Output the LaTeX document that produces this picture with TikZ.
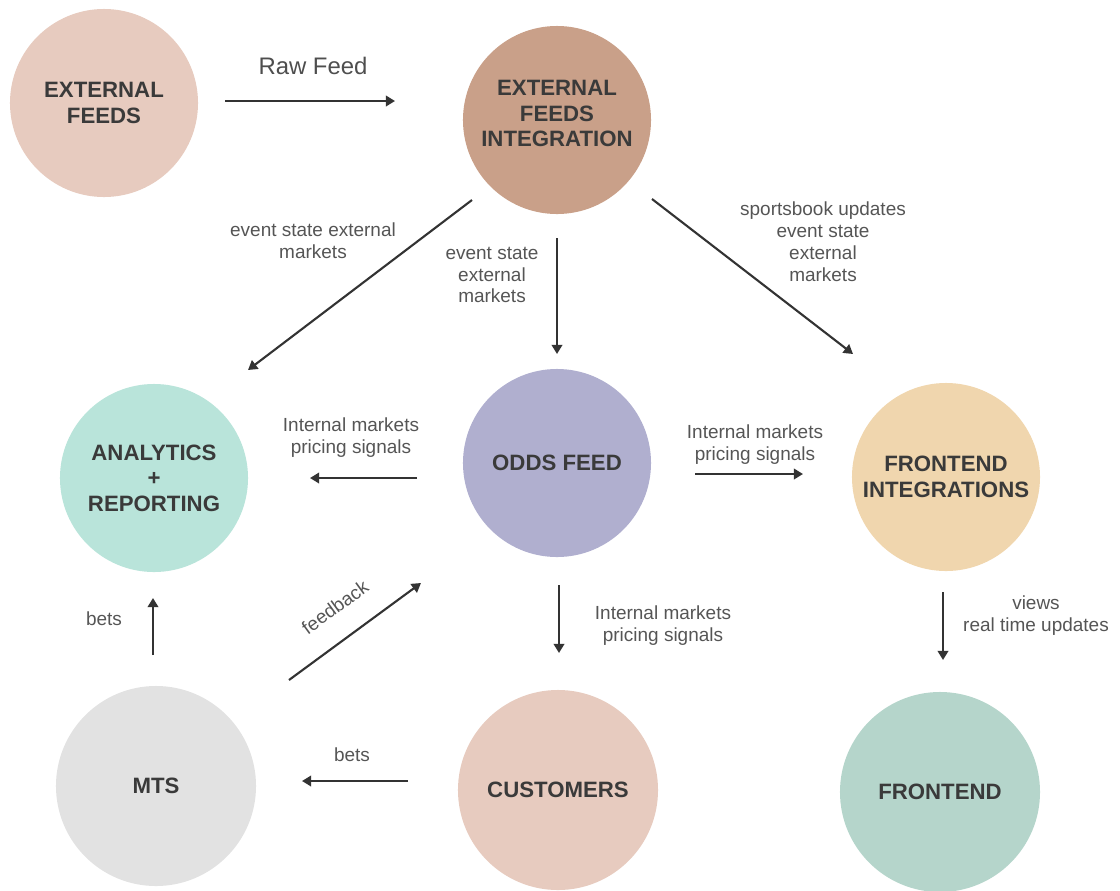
\documentclass[tikz,border=0pt]{standalone}
\usepackage{fontspec}
\setmainfont{Liberation Sans}
\usetikzlibrary{arrows.meta}
\definecolor{Ink}{HTML}{3A3A3A}
\definecolor{Label}{HTML}{555555}
\definecolor{Line}{HTML}{333333}
\definecolor{Blush}{HTML}{E7CBBF}
\definecolor{Clay}{HTML}{C9A089}
\definecolor{Mint}{HTML}{B9E4DA}
\definecolor{Lilac}{HTML}{B0AFCF}
\definecolor{Peach}{HTML}{F0D6AE}
\definecolor{Ash}{HTML}{E2E2E2}
\definecolor{Sage}{HTML}{B5D5CB}

\begin{document}
\begin{tikzpicture}[
    x=0.025cm,y=-0.025cm,
    hub/.style={circle,inner sep=0pt,minimum size=4.7cm,align=center,
      font=\fontsize{15.8}{18.2}\selectfont\bfseries,text=Ink},
    note/.style={align=center,font=\fontsize{13.5}{15.6}\selectfont,text=Label},
    arr/.style={-{Triangle[length=6.5pt,width=7.5pt]},Line,line width=1.5pt}
  ]
    \useasboundingbox (0,0) rectangle (1120,890);
    % circles
    \node[hub,fill=Blush] (feeds) at (104,103) {EXTERNAL\\FEEDS};
    \node[hub,fill=Clay] (integ) at (557,120) {EXTERNAL\\FEEDS\\INTEGRATION\\[-9pt]\mbox{}};
    \node[hub,fill=Mint] (analytics) at (154,478) {ANALYTICS\\+\\REPORTING};
    \node[hub,fill=Lilac] (odds) at (557,463) {ODDS FEED};
    \node[hub,fill=Peach] (fint) at (946,477) {FRONTEND\\INTEGRATIONS};
    \node[hub,fill=Ash,minimum size=5cm] (mts) at (156,786) {MTS};
    \node[hub,fill=Blush,minimum size=5cm] (customers) at (558,790) {CUSTOMERS};
    \node[hub,fill=Sage,minimum size=5cm] (frontend) at (940,792) {FRONTEND};
    % arrow ends
    \coordinate (raw-a) at (225,101);   \coordinate (raw-b) at (395,101);
    \coordinate (toan-a) at (472,200);  \coordinate (toan-b) at (248,370);
    \coordinate (todd-a) at (557,238);  \coordinate (todd-b) at (557,354);
    \coordinate (tofi-a) at (652,199);  \coordinate (tofi-b) at (853,354);
    \coordinate (oan-a) at (417,478);   \coordinate (oan-b) at (310,478);
    \coordinate (ofi-a) at (695,474);   \coordinate (ofi-b) at (803,474);
    \coordinate (bet-a) at (153,655);   \coordinate (bet-b) at (153,598);
    \coordinate (fb-a) at (289,680);    \coordinate (fb-b) at (421,583);
    \coordinate (ocu-a) at (559,585);   \coordinate (ocu-b) at (559,653);
    \coordinate (cmt-a) at (408,781);   \coordinate (cmt-b) at (302,781);
    \coordinate (fife-a) at (943,592);  \coordinate (fife-b) at (943,660);
    % connectors
    \draw[arr] (raw-a)--(raw-b);
    \draw[arr] (toan-a)--(toan-b);
    \draw[arr] (todd-a)--(todd-b);
    \draw[arr] (tofi-a)--(tofi-b);
    \draw[arr] (oan-a)--(oan-b);
    \draw[arr] (ofi-a)--(ofi-b);
    \draw[arr] (bet-a)--(bet-b);
    \draw[arr] (fb-a)--(fb-b);
    \draw[arr] (ocu-a)--(ocu-b);
    \draw[arr] (cmt-a)--(cmt-b);
    \draw[arr] (fife-a)--(fife-b);
    % labels
    \node[note,font=\fontsize{17}{20}\selectfont,text=Ink!90] (rawlbl) at (313,66) {Raw Feed};
    \node[note] (toanlbl) at (313,241) {event state external\\markets};
    \node[note] (toddlbl) at (492,275) {event state\\external\\markets};
    \node[note] (tofilbl) at (823,242) {sportsbook updates\\event state\\external\\markets};
    \node[note] (oanlbl) at (351,438) {Internal markets\\pricing signals};
    \node[note] (ofilbl) at (755,445) {Internal markets\\pricing signals};
    \node[note] (betlbl) at (104,619) {bets};
    \node[note,rotate=36,inner sep=1pt] (fblbl) at (335,607) {feedback};
    \node[note] (oculbl) at (663,626) {Internal markets\\pricing signals};
    \node[note] (cmtlbl) at (352,755) {bets};
    \node[note] (fifelbl) at (1036,616) {views\\real time updates};
  \end{tikzpicture}
\end{document}
